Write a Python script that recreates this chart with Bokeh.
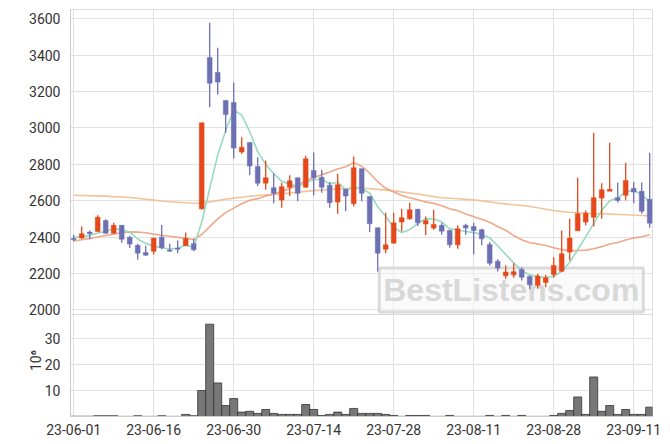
import math
from bokeh.plotting import figure
from bokeh.models import (ColumnDataSource, Label, FixedTicker, Range1d, Span,
                          LinearAxis)
from bokeh.embed import file_html
from bokeh.resources import INLINE

# ---- data ----
tick_pos = [0, 10, 20, 30, 40, 50, 60, 70]
tick_labels = ["23-06-01", "23-06-16", "23-06-30", "23-07-14",
               "23-07-28", "23-08-11", "23-08-28", "23-09-11"]
price_ticks = [2000, 2200, 2400, 2600, 2800, 3000, 3200, 3400, 3600]
volume_ticks = [10, 20, 30]
volume_unit = "10⁶"

open_ = [2392, 2394, 2427, 2430, 2491, 2421, 2464, 2398, 2354, 2315,
         2322, 2399, 2328, 2339, 2352, 2363, 2555, 3387, 3305, 3151,
         3140, 2867, 2920, 2788, 2696, 2671, 2603, 2674, 2726, 2674,
         2766, 2729, 2684, 2592, 2662, 2583, 2776, 2623, 2451, 2332,
         2366, 2482, 2500, 2552, 2471, 2449, 2464, 2436, 2357, 2464,
         2458, 2440, 2359, 2267, 2187, 2192, 2222, 2183, 2135, 2150,
         2194, 2212, 2317, 2434, 2482, 2509, 2614, 2652, 2616, 2629,
         2667, 2651, 2607]
high = [2412, 2458, 2436, 2519, 2497, 2478, 2466, 2407, 2363, 2352,
        2396, 2466, 2363, 2381, 2425, 2390, 3028, 3578, 3441, 3151,
        3250, 2948, 2920, 2839, 2821, 2751, 2698, 2739, 2726, 2847,
        2864, 2770, 2702, 2748, 2665, 2843, 2776, 2623, 2451, 2534,
        2534, 2556, 2589, 2556, 2513, 2550, 2478, 2440, 2464, 2473,
        2478, 2445, 2372, 2277, 2244, 2256, 2234, 2190, 2198, 2192,
        2289, 2436, 2500, 2726, 2546, 2973, 2696, 2918, 2700, 2808,
        2702, 2700, 2863]
low = [2377, 2390, 2387, 2428, 2418, 2418, 2369, 2339, 2275, 2297,
       2304, 2331, 2319, 2310, 2350, 2322, 2550, 3114, 3184, 2973,
       2832, 2858, 2739, 2680, 2660, 2586, 2561, 2625, 2597, 2670,
       2629, 2644, 2561, 2528, 2541, 2568, 2596, 2427, 2211, 2311,
       2366, 2431, 2495, 2460, 2409, 2440, 2412, 2341, 2335, 2412,
       2304, 2354, 2243, 2211, 2170, 2176, 2161, 2113, 2116, 2124,
       2176, 2207, 2271, 2434, 2464, 2458, 2500, 2652, 2590, 2601,
       2586, 2528, 2451]
close = [2385, 2418, 2418, 2509, 2421, 2464, 2387, 2361, 2311, 2300,
         2394, 2341, 2322, 2333, 2392, 2330, 3028, 3246, 3252, 3073,
         2889, 2894, 2790, 2696, 2726, 2640, 2677, 2709, 2640, 2830,
         2726, 2674, 2589, 2688, 2625, 2781, 2641, 2473, 2311, 2357,
         2478, 2506, 2550, 2478, 2491, 2469, 2432, 2357, 2445, 2449,
         2436, 2390, 2256, 2229, 2207, 2209, 2179, 2137, 2185, 2176,
         2244, 2308, 2394, 2528, 2531, 2616, 2660, 2662, 2601, 2711,
         2647, 2542, 2476]
volume = [0.1, 0.1, 0.1, 0.3, 0.3, 0.3, 0.05, 0.05, 0.3, 0.05,
          0.05, 0.3, 0.05, 0.05, 0.8, 0.3, 10.0, 35.5, 12.9, 4.2,
          6.9, 1.7, 2.0, 1.2, 2.7, 1.2, 0.8, 0.8, 0.8, 4.6,
          2.7, 0.4, 0.8, 1.7, 0.8, 3.1, 1.2, 1.2, 1.2, 0.8,
          0.4, 0.05, 0.4, 0.4, 0.4, 0.05, 0.05, 0.4, 0.05, 0.05,
          0.05, 0.05, 0.4, 0.05, 0.4, 0.05, 0.4, 0.05, 0.05, 0.05,
          0.4, 1.2, 2.3, 7.5, 0.8, 15.2, 2.0, 4.2, 0.8, 2.7,
          0.8, 0.8, 3.6]
ma5 = [2399, 2401, 2408, 2422, 2430, 2446, 2440, 2428, 2389, 2365,
       2351, 2341, 2334, 2338, 2356, 2344, 2481, 2666, 2850, 2986,
       3098, 3071, 2980, 2868, 2799, 2749, 2706, 2690, 2678, 2699,
       2716, 2716, 2692, 2701, 2660, 2671, 2665, 2642, 2566, 2513,
       2452, 2425, 2440, 2474, 2501, 2499, 2484, 2445, 2439, 2430,
       2424, 2415, 2395, 2352, 2304, 2258, 2216, 2192, 2183, 2177,
       2184, 2210, 2261, 2330, 2401, 2475, 2546, 2599, 2614, 2650,
       2656, 2633, 2595]
ma20 = [2378, 2385, 2392, 2400, 2408, 2416, 2423, 2428, 2427, 2423,
        2416, 2410, 2404, 2398, 2392, 2386, 2414, 2457, 2500, 2534,
        2559, 2583, 2602, 2611, 2626, 2635, 2650, 2667, 2684, 2710,
        2727, 2743, 2757, 2774, 2786, 2809, 2789, 2751, 2704, 2668,
        2647, 2628, 2616, 2605, 2593, 2585, 2572, 2555, 2545, 2526,
        2512, 2497, 2481, 2458, 2437, 2408, 2385, 2368, 2362, 2353,
        2341, 2331, 2324, 2326, 2328, 2335, 2347, 2362, 2370, 2383,
        2394, 2401, 2412]
ma60 = [2629, 2628, 2627, 2626, 2625, 2622, 2620, 2617, 2613, 2608,
        2603, 2598, 2594, 2591, 2588, 2586, 2587, 2593, 2600, 2608,
        2614, 2619, 2624, 2628, 2631, 2634, 2638, 2642, 2646, 2651,
        2655, 2658, 2661, 2664, 2667, 2669, 2668, 2666, 2662, 2658,
        2654, 2648, 2642, 2636, 2630, 2622, 2616, 2613, 2610, 2607,
        2604, 2599, 2593, 2587, 2582, 2577, 2573, 2568, 2561, 2553,
        2546, 2540, 2536, 2533, 2531, 2529, 2528, 2526, 2524, 2522,
        2520, 2518, 2516]

# ---- layout / style constants ----
UP = "#e4481b"
DOWN = "#6d70b3"
FONT = "Roboto"
GRID = "#e2e2e2"
AXIS = "#cccccc"
TXT = "#333333"
P_LO, P_HI = 1413, 3651          # price axis range over the whole frame
RATIO = 14.3                      # price units per volume unit (panel scale)
DIVIDER = 1974                    # price level where the volume panel begins
UNIT_POS = 25.5                   # volume level at which the unit text sits

idx = list(range(len(close)))
colors = [UP if c >= o else DOWN for o, c in zip(open_, close)]
top = [max(o, c) for o, c in zip(open_, close)]
bot = [min(o, c) for o, c in zip(open_, close)]
bot = [b if t - b > 4 else t - 4 for t, b in zip(top, bot)]

src = ColumnDataSource(dict(x=idx, o=open_, h=high, l=low, c=close,
                            top=top, bot=bot, col=colors, vol=volume,
                            ma5=ma5, ma20=ma20, ma60=ma60))

p = figure(width=662, height=440, x_range=Range1d(-0.4, 72.35),
           y_range=Range1d(P_LO, P_HI),
           output_backend="svg", toolbar_location=None,
           min_border_left=70, min_border_right=10, min_border_top=9,
           min_border_bottom=24)
vol_hi = (P_HI - P_LO) / RATIO
p.extra_y_ranges = {"vol": Range1d(0, vol_hi)}
p.outline_line_color = "#dddddd"

vol_pos = [round(P_LO + v * RATIO) for v in volume_ticks]
p.yaxis.ticker = FixedTicker(ticks=price_ticks + vol_pos)
p.yaxis.major_label_overrides = {pos: str(v) for pos, v in zip(vol_pos, volume_ticks)}
p.xaxis.ticker = FixedTicker(ticks=tick_pos)
p.xaxis.major_label_overrides = {t: l for t, l in zip(tick_pos, tick_labels)}
p.grid.grid_line_color = GRID
for ax in (p.xaxis, p.yaxis):
    ax.axis_line_color = AXIS
    ax.major_tick_line_color = None
    ax.minor_tick_line_color = None
    ax.major_label_text_font = FONT
    ax.major_label_text_font_size = "14px"
    ax.major_label_text_color = TXT
p.xaxis.major_label_standoff = 1
p.yaxis.major_label_standoff = 4

# unit text of the volume panel, drawn as the single tick label of an extra axis
unit_axis = LinearAxis(y_range_name="vol", ticker=FixedTicker(ticks=[UNIT_POS]),
                       major_label_overrides={UNIT_POS: volume_unit},
                       major_label_orientation=math.pi / 2,
                       axis_line_color=None, major_tick_line_color=None,
                       minor_tick_line_color=None,
                       major_label_text_font=FONT,
                       major_label_text_font_size="14px",
                       major_label_text_color=TXT,
                       major_label_standoff=-16)
p.add_layout(unit_axis, "left")

p.add_layout(Span(location=DIVIDER, dimension="width",
                  line_color="#d8d8d8", line_width=1))

wm = Label(x=54.7, y=2109, text="BestListens.com", text_align="center",
           text_baseline="middle", text_font="Liberation Sans",
           text_font_size="32px", text_font_style="bold",
           text_color="#d2d2d2", text_alpha=0.85,
           background_fill_color="#f6f6f6", background_fill_alpha=0.55,
           border_line_color="#cfcfcf", border_line_width=3,
           border_line_alpha=0.75, padding=4, level="underlay")
p.add_layout(wm)

# price panel
p.line("x", "ma60", source=src, color="#f2bd8e", line_width=1.6, line_alpha=0.9)
p.line("x", "ma20", source=src, color="#ee9f7c", line_width=1.6, line_alpha=0.9)
p.line("x", "ma5", source=src, color="#8fd9bd", line_width=1.6, line_alpha=0.95)
p.segment("x", "h", "x", "l", source=src, color="col", line_width=1.3)
p.vbar(x="x", top="top", bottom="bot", width=0.6, source=src,
       fill_color="col", line_color="col", line_width=0.5)

# volume panel
p.vbar(x="x", top="vol", bottom=0, width=1.0, source=src, y_range_name="vol",
       fill_color="#777777", line_color="#333333", line_width=0.8)

open("out.html", "w").write(file_html(p, INLINE))
